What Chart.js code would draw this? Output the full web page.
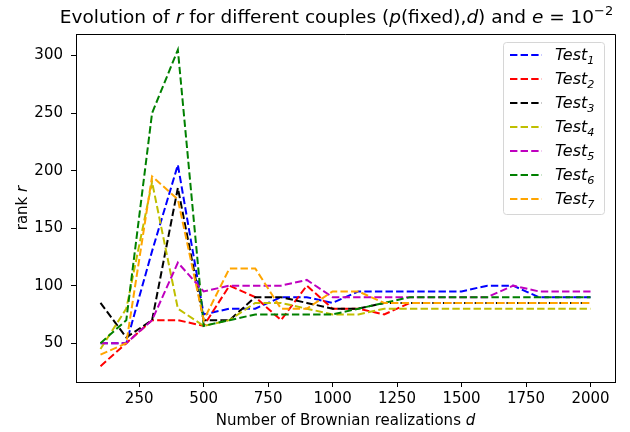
<!DOCTYPE html>
<html>
<head>
<meta charset="utf-8">
<script src="https://cdn.jsdelivr.net/npm/chart.js@4/dist/chart.umd.min.js"></script>
<style>
  html, body { margin: 0; padding: 0; background: #fff; }
</style>
</head>
<body>
<canvas id="chart" width="630" height="432"></canvas>
<script>
// number of Brownian realizations d
const realizations = [100, 200, 300, 400, 500, 600, 700, 800, 900, 1000,
  1100, 1200, 1300, 1400, 1500, 1600, 1700, 1800, 1900, 2000];

// rank r for each test
const test1 = [50, 50, 130, 205, 75, 80, 80, 90, 90, 85, 95, 95, 95, 95, 95, 100, 100, 90, 90, 90];
const test2 = [30, 50, 70, 70, 65, 100, 90, 70, 100, 80, 80, 75, 85, 85, 85, 85, 85, 85, 85, 85];
const test3 = [85, 55, 70, 185, 70, 70, 90, 90, 85, 80, 80, 85, 85, 85, 85, 85, 85, 85, 85, 85];
const test4 = [45, 80, 190, 80, 65, 70, 85, 85, 80, 75, 75, 80, 80, 80, 80, 80, 80, 80, 80, 80];
const test5 = [50, 50, 70, 120, 95, 100, 100, 100, 105, 90, 90, 90, 90, 90, 90, 90, 100, 95, 95, 95];
const test6 = [50, 70, 250, 305, 65, 70, 75, 75, 75, 75, 80, 85, 90, 90, 90, 90, 90, 90, 90, 90];
const test7 = [40, 50, 195, 175, 70, 115, 115, 80, 80, 95, 95, 85, 85, 85, 85, 85, 85, 85, 85, 85];

const seriesValues = [test1, test2, test3, test4, test5, test6, test7];
const seriesIndex = ["1", "2", "3", "4", "5", "6", "7"];
const seriesColors = ["#0000ff", "#ff0000", "#000000", "#bfbf00", "#bf00bf", "#008000", "#ffa500"];

const xTicks = [250, 500, 750, 1000, 1250, 1500, 1750, 2000];
const yTicks = [50, 100, 150, 200, 250, 300];

const FONT = '"DejaVu Sans", sans-serif';

function segFont(s, size) {
  const sz = (s.sup || s.sub) ? size * 0.7 : size;
  return (s.it ? "italic " : "") + sz + "px " + FONT;
}

function drawRich(ctx, segs, x, y, size, align) {
  let w = 0;
  segs.forEach(s => { ctx.font = segFont(s, size); w += ctx.measureText(s.t).width; });
  let cx = align === "center" ? x - w / 2 : x;
  ctx.textAlign = "left";
  ctx.textBaseline = "alphabetic";
  segs.forEach(s => {
    ctx.font = segFont(s, size);
    let dy = 0;
    if (s.sup) dy = -size * 0.42;
    if (s.sub) dy = size * 0.25;
    ctx.fillText(s.t, cx, y + dy);
    cx += ctx.measureText(s.t).width;
  });
}

const decorations = {
  id: "decorations",
  afterDraw(chart) {
    const ctx = chart.ctx;
    const a = chart.chartArea;
    ctx.save();
    ctx.fillStyle = "#000";

    // top and right spines
    ctx.strokeStyle = "#000";
    ctx.lineWidth = 1;
    ctx.beginPath();
    ctx.moveTo(a.left, a.top + 0.5);
    ctx.lineTo(a.right + 0.5, a.top + 0.5);
    ctx.lineTo(a.right + 0.5, a.bottom);
    ctx.stroke();

    const midX = (a.left + a.right) / 2;

    // title
    drawRich(ctx, [
      { t: "Evolution of " }, { t: "r", it: true }, { t: " for different couples (" },
      { t: "p", it: true }, { t: "(fixed)," }, { t: "d", it: true }, { t: ") and " },
      { t: "e", it: true }, { t: " = 10" }, { t: "\u22122", sup: true }
    ], midX - 9, 23, 18.5, "center");

    // x axis label
    drawRich(ctx, [{ t: "Number of Brownian realizations " }, { t: "d", it: true }],
      midX, 425, 15, "center");

    // y axis label
    ctx.save();
    ctx.translate(27, (a.top + a.bottom) / 2);
    ctx.rotate(-Math.PI / 2);
    drawRich(ctx, [{ t: "rank " }, { t: "r", it: true }], 0, 0, 15, "center");
    ctx.restore();

    // legend
    const lx = 503, ly = 42, lw = 101, lh = 172;
    ctx.beginPath();
    ctx.roundRect(lx + 0.5, ly + 0.5, lw, lh, 3);
    ctx.fillStyle = "rgba(255,255,255,0.8)";
    ctx.fill();
    ctx.strokeStyle = "#d6d6d6";
    ctx.stroke();
    seriesIndex.forEach((idx, i) => {
      const yy = 55 + i * 24;
      ctx.strokeStyle = seriesColors[i];
      ctx.lineWidth = 2;
      ctx.setLineDash([7.4, 3.2]);
      ctx.beginPath();
      ctx.moveTo(510, yy);
      ctx.lineTo(542, yy);
      ctx.stroke();
      ctx.setLineDash([]);
      ctx.fillStyle = "#000";
      drawRich(ctx, [{ t: "Test", it: true }, { t: idx, it: true, sub: true }], 555, yy + 5, 16, "left");
    });
    ctx.restore();
  }
};

const datasets = seriesValues.map((vals, i) => ({
  label: "Test" + seriesIndex[i],
  data: realizations.map((d, j) => ({ x: d, y: vals[j] })),
  borderColor: seriesColors[i],
  backgroundColor: seriesColors[i],
  borderWidth: 2,
  borderDash: [7.4, 3.2],
  pointRadius: 0,
  tension: 0,
  fill: false,
  order: seriesValues.length - i
}));

const tickFont = { family: FONT, size: 15 };

new Chart(document.getElementById("chart"), {
  type: "line",
  data: { datasets: datasets },
  options: {
    responsive: false,
    animation: false,
    devicePixelRatio: 1,
    layout: { padding: { top: 34, right: 15, left: 0, bottom: 0 } },
    plugins: {
      legend: { display: false },
      title: { display: false },
      tooltip: { enabled: false }
    },
    scales: {
      x: {
        type: "linear",
        min: 5,
        max: 2095,
        afterFit: s => { s.height = 50; },
        afterBuildTicks: s => { s.ticks = xTicks.map(v => ({ value: v })); },
        ticks: { color: "#000", font: tickFont, padding: 3, maxRotation: 0, callback: v => String(v) },
        grid: { drawOnChartArea: false, drawTicks: true, tickLength: 5, tickColor: "#000" },
        border: { display: true, color: "#000", width: 1 }
      },
      y: {
        type: "linear",
        min: 16.25,
        max: 318.75,
        afterFit: s => { s.width = 76; },
        afterBuildTicks: s => { s.ticks = yTicks.map(v => ({ value: v })); },
        ticks: { color: "#000", font: tickFont, padding: 8, callback: v => String(v) },
        grid: { drawOnChartArea: false, drawTicks: true, tickLength: 5, tickColor: "#000" },
        border: { display: true, color: "#000", width: 1 }
      }
    }
  },
  plugins: [decorations]
});
</script>
</body>
</html>
